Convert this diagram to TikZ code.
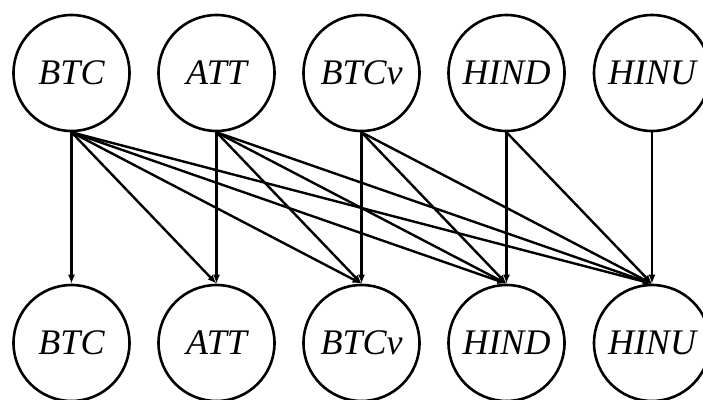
\documentclass[tikz,border=0pt]{standalone}
\usepackage{fontspec}
\setmainfont{Liberation Serif}
\usetikzlibrary{arrows.meta}
\begin{document}
\begin{tikzpicture}[x=1pt,y=1pt,
  circ/.style={circle,draw=black,line width=2.6pt,minimum size=116pt,inner sep=0pt,
    font=\fontsize{36}{40}\selectfont\itshape},
  edge/.style={line width=2.4pt,-{Latex[length=9pt,width=7pt]}}]
\useasboundingbox (0,0) rectangle (703,-399);
\begin{scope}
\clip (0,0) rectangle (703,-399);
\foreach \n/\x/\t in {1/71.5/BTC,2/216.5/ATT,3/361.5/BTCv,4/506.5/HIND,5/652/HINU}{
  \node[circ] (t\n) at (\x,-73) {\raisebox{-4.5pt}{\t}};
  \node[circ] (b\n) at (\x,-343) {\raisebox{-4.5pt}{\t}};
}
\foreach \i in {1,...,5}{
  \foreach \j in {\i,...,5}{
    \draw[edge] (t\i.south) -- (b\j.north);
  }
}
\end{scope}
\end{tikzpicture}
\end{document}
